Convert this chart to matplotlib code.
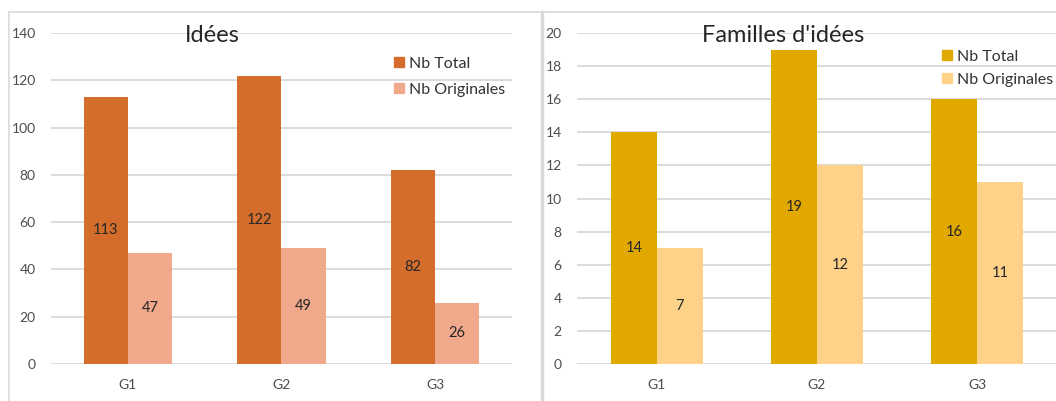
import matplotlib
matplotlib.use("Agg")
import matplotlib.pyplot as plt
from matplotlib.lines import Line2D
from matplotlib.patches import Patch
import numpy as np

plt.rcParams['font.family'] = ['Lato', 'DejaVu Sans']

# Données
groupes = ['G1', 'G2', 'G3']
idees_total = [113, 122, 82]
idees_orig = [47, 49, 26]
familles_total = [14, 19, 16]
familles_orig = [7, 12, 11]
series = ['Nb Total', 'Nb Originales']

W, H = 1056, 401
fig = plt.figure(figsize=(W / 100, H / 100), dpi=100)


def px(x0, y0, x1, y1):
    # rectangle en pixels (haut gauche) -> coordonnées figure
    return [x0 / W, 1 - y1 / H, (x1 - x0) / W, (y1 - y0) / H]


def panneau(rect, total, orig, ymax, ystep, couleurs, titre, titre_xy, leg_xy, leg_sp):
    ax = fig.add_axes(rect)
    x = np.arange(len(groupes))
    bw = 0.287
    b1 = ax.bar(x - bw / 2, total, bw, color=couleurs[0])
    b2 = ax.bar(x + bw / 2, orig, bw, color=couleurs[1])
    for bars, vals in ((b1, total), (b2, orig)):
        for b, v in zip(bars, vals):
            ax.text(b.get_x() + b.get_width() / 2, v / 2, str(v), ha='center', va='center',
                    fontsize=10.5, color='#262626')
    ax.set_xlim(-0.5, 2.5)
    ax.set_ylim(0, ymax)
    ax.set_yticks(np.arange(0, ymax + 1, ystep))
    ax.set_xticks(x)
    ax.set_xticklabels(groupes)
    ax.tick_params(length=0, labelsize=10, labelcolor='#4D4D4D')
    ax.tick_params(axis='y', pad=11)
    ax.tick_params(axis='x', pad=11)
    for s in ax.spines.values():
        s.set_visible(False)
    ax.yaxis.grid(True, color='#D9D9D9', linewidth=1.3)
    ax.set_axisbelow(True)
    fig.text(titre_xy[0] / W, 1 - titre_xy[1] / H, titre, ha='center', va='center',
             fontsize=17, color='#262626')
    handles = [Patch(color=couleurs[0]), Patch(color=couleurs[1])]
    fig.legend(handles, series, loc='upper left', bbox_to_anchor=(leg_xy[0] / W, 1 - leg_xy[1] / H),
               frameon=False, fontsize=11.5, handlelength=0.6, handleheight=0.6,
               handletextpad=0.35, labelspacing=leg_sp, borderpad=0, borderaxespad=0,
               labelcolor='#333333')
    return ax


panneau(px(51, 33, 512, 364), idees_total, idees_orig, 140, 20,
        ['#D46D2B', '#F1A98B'], 'Idées', (212, 35), (394, 57), 0.75)
panneau(px(577, 33, 1057, 364), familles_total, familles_orig, 20, 2,
        ['#E1A800', '#FFD289'], "Familles d'idées", (783, 35), (942, 50), 0.56)

# cadres gris
gris = '#D9D9D9'
fig.add_artist(Line2D([9 / W, 9 / W], [0, 1 - 12 / H], color=gris, lw=1.2))
fig.add_artist(Line2D([9 / W, 1], [1 - 12 / H, 1 - 12 / H], color=gris, lw=1.2))
fig.add_artist(Line2D([541.5 / W, 541.5 / W], [0, 1 - 12 / H], color=gris, lw=2.4))

fig.savefig('out.png', dpi=100, facecolor='white')
